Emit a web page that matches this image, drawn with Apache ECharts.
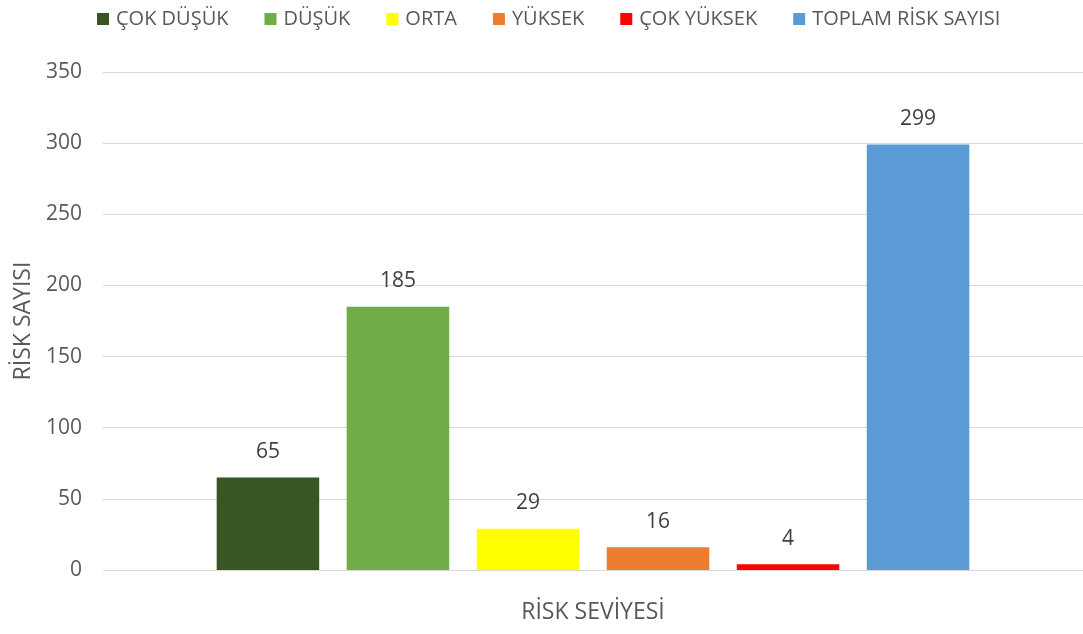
<!DOCTYPE html>
<html><head><meta charset="utf-8">
<script src="https://cdn.jsdelivr.net/npm/echarts@6/dist/echarts.min.js"></script>
<style>html,body{margin:0;padding:0;background:#fff}#c{width:1083px;height:634px}</style>
</head><body><div id="c"></div>
<script>
const categories = [''];
const seriesNames = ['ÇOK DÜŞÜK', 'DÜŞÜK', 'ORTA', 'YÜKSEK', 'ÇOK YÜKSEK', 'TOPLAM RİSK SAYISI'];
const seriesValues = [65, 185, 29, 16, 4, 299];
const seriesColors = ['#375623', '#70AD47', '#FFFF00', '#ED7D31', '#FF0000', '#5B9BD5'];
const yTicks = { min: 0, max: 350, interval: 50 };
const xAxisName = 'RİSK SEVİYESİ';
const yAxisName = 'RİSK SAYISI';

const FONT = 'Open Sans';
const chart = echarts.init(document.getElementById('c'), null, { renderer: 'canvas' });
chart.setOption({
  animation: false,
  backgroundColor: '#ffffff',
  textStyle: { fontFamily: FONT },
  legend: {
    top: 4, left: 92,
    itemWidth: 12, itemHeight: 12, itemGap: 36,
    icon: 'rect',
    textStyle: { fontFamily: FONT, fontSize: 20, color: '#595959', padding: [0, 0, 0, 2] },
    data: seriesNames
  },
  grid: { left: 103, right: -4, top: 72, bottom: 64, containLabel: false },
  xAxis: {
    type: 'category', data: categories,
    axisLine: { show: true, lineStyle: { color: '#d9d9d9', width: 1 } },
    axisTick: { show: false }, axisLabel: { show: false },
    name: xAxisName, nameLocation: 'middle', nameGap: 31,
    nameTextStyle: { fontFamily: FONT, fontSize: 23, color: '#595959' }
  },
  yAxis: {
    type: 'value', min: yTicks.min, max: yTicks.max, interval: yTicks.interval,
    axisLine: { show: false }, axisTick: { show: false },
    axisLabel: { fontFamily: FONT, fontSize: 21, color: '#595959', margin: 21 },
    splitLine: { lineStyle: { color: '#d9d9d9', width: 1 } },
    name: yAxisName, nameLocation: 'middle', nameGap: 66, nameRotate: 90,
    nameTextStyle: { fontFamily: FONT, fontSize: 23, color: '#595959' }
  },
  series: seriesNames.map((n, i) => ({
    name: n, type: 'bar',
    data: [seriesValues[i]],
    itemStyle: { color: seriesColors[i] },
    barGap: '26.8%', barCategoryGap: '23.2%',
    label: { show: true, position: 'top', distance: 15, fontFamily: FONT, fontSize: 21, color: '#404040' }
  }))
});
</script></body></html>
